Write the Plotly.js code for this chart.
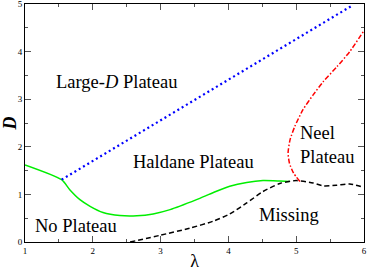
<!DOCTYPE html>
<html>
<head>
<meta charset="utf-8">
<script src="https://cdn.plot.ly/plotly-3.0.1.min.js"></script>
<style>html,body{margin:0;padding:0;background:#fff;}#chart{width:367px;height:271px;}</style>
</head>
<body>
<div id="chart"></div>
<script>
// Green solid boundary (No Plateau / Haldane / Large-D)
const greenX = [1.0, 1.54, 1.66, 1.81, 1.96, 2.15, 2.40, 2.65, 2.89, 3.14, 3.53, 3.78, 4.02, 4.27, 4.51, 4.76, 4.90];
const greenY = [1.62, 1.31, 1.10, 0.89, 0.75, 0.62, 0.555, 0.55, 0.59, 0.68, 0.89, 1.04, 1.17, 1.25, 1.29, 1.28, 1.27];
// Blue dotted boundary (Large-D / Haldane)
const blueX = [1.54, 5.84];
const blueY = [1.31, 4.98];
// Red dash-dot boundary (Neel)
const redX = [5.056, 4.96, 4.90, 4.88, 4.91, 4.98, 5.10, 5.25, 5.40, 5.60, 5.79, 5.99];
const redY = [1.27, 1.45, 1.66, 1.87, 2.15, 2.43, 2.78, 3.09, 3.37, 3.68, 4.00, 4.42];
// Black dashed boundary (Missing)
const blackX = [2.55, 2.99, 3.43, 3.78, 4.02, 4.27, 4.51, 4.76, 5.00, 5.25, 5.40, 5.59, 5.79, 5.99];
const blackY = [0.0, 0.14, 0.29, 0.44, 0.59, 0.82, 1.06, 1.23, 1.29, 1.24, 1.18, 1.19, 1.22, 1.15];
// Region labels
const labelText = ["Large-<i>D</i> Plateau", "Haldane Plateau", "No Plateau", "Missing", "Neel<br>Plateau"];
const labelX = [2.35, 3.49, 1.75, 4.90, 5.02];
const labelY = [3.37, 1.68, 0.34, 0.57, 2.03];
const labelAnchor = ["center", "center", "center", "center", "left"];

const serif = "Liberation Serif";
const traces = [
  {x: greenX, y: greenY, mode: "lines", line: {color: "#00ee00", width: 1.5, shape: "spline", smoothing: 0.6}},
  {x: blueX, y: blueY, mode: "lines", line: {color: "#0000ff", width: 2.2, dash: "2px,3px"}},
  {x: redX, y: redY, mode: "lines", line: {color: "#ff0000", width: 1.5, dash: "5px,2px,1.5px,2px", shape: "spline", smoothing: 0.6}},
  {x: blackX, y: blackY, mode: "lines", line: {color: "#000000", width: 1.5, dash: "5px,3px", shape: "spline", smoothing: 0.6}}
];
const annotations = labelText.map((t, i) => ({
  x: labelX[i], y: labelY[i], xref: "x", yref: "y", text: t, showarrow: false,
  xanchor: labelAnchor[i], yanchor: "middle", align: "left",
  font: {family: serif, size: 18.5, color: "#000"}
}));
const axisCommon = {
  showgrid: false, zeroline: false, showline: true, linecolor: "#000", linewidth: 1, mirror: "allticks",
  ticks: "inside", ticklen: 6, tickwidth: 1, tickcolor: "#555",
  tickfont: {family: serif, size: 9, color: "#000"}, dtick: 1, ticklabeloverflow: "allow",
  minor: {dtick: 0.5, ticks: "inside", ticklen: 3, tickwidth: 1, tickcolor: "#555"}
};
const layout = {
  width: 367, height: 271,
  margin: {l: 25, r: 3, t: 4, b: 29},
  font: {family: serif},
  paper_bgcolor: "#fff", plot_bgcolor: "#fff",
  showlegend: false,
  xaxis: Object.assign({}, axisCommon, {range: [1, 6.0001], tick0: 1,
    title: {text: "λ", font: {family: serif, size: 18, color: "#000"}, standoff: 2}}),
  yaxis: Object.assign({}, axisCommon, {range: [0, 5.0001], tick0: 0, ticklabelstandoff: 0,
    title: {text: "<b><i>D</i></b>", font: {family: serif, size: 18, color: "#000"}, standoff: 0}}),
  annotations: annotations
};
Plotly.newPlot("chart", traces, layout, {staticPlot: true, displayModeBar: false});
</script>
</body>
</html>
